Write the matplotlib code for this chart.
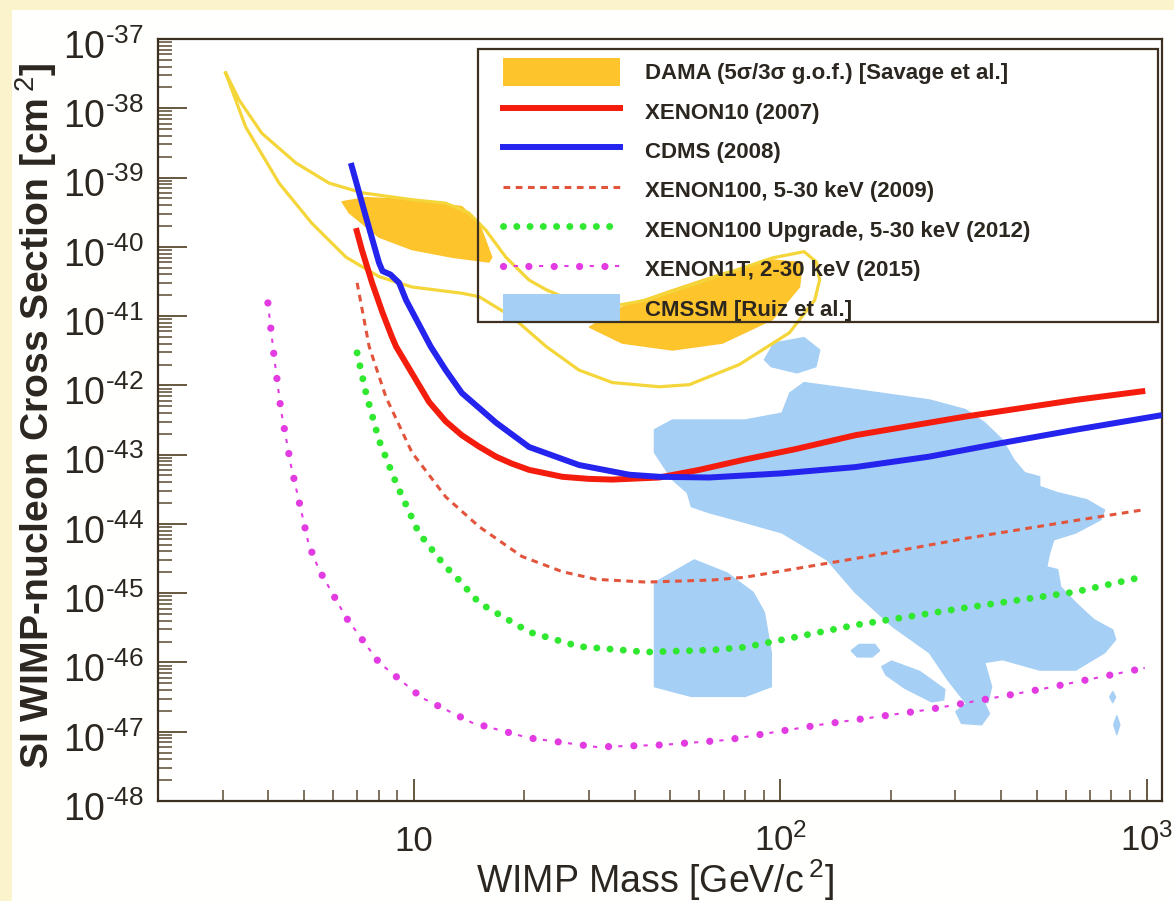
import numpy as np
import matplotlib
matplotlib.use("Agg")
import matplotlib.pyplot as plt
from matplotlib.patches import Rectangle, Patch
from matplotlib.lines import Line2D
from matplotlib.ticker import LogLocator, NullFormatter, FixedLocator
from matplotlib.transforms import ScaledTranslation

plt.rcParams['font.family'] = ['Liberation Sans', 'DejaVu Sans']
plt.rcParams['mathtext.fontset'] = 'custom'
plt.rcParams['mathtext.rm'] = 'Liberation Sans'
plt.rcParams['mathtext.it'] = 'Liberation Sans:italic'
plt.rcParams['mathtext.bf'] = 'Liberation Sans:bold'

# ---- limit curves: WIMP mass [GeV/c^2] vs log10(sigma_SI / cm^2) ----
xenon10_mass = [6.94, 7.2, 7.68, 8.2, 8.7, 8.93, 10.99, 12.2, 13.5, 15.0, 16.75,
                18.5, 20.6, 25.4, 30, 34.8, 46.7, 60, 80, 110, 160, 320, 640, 990]
xenon10_logsig = [-39.73, -40.04, -40.52, -40.95, -41.30, -41.44, -42.24, -42.52,
                  -42.72, -42.88, -43.03, -43.13, -43.22, -43.32, -43.35, -43.36,
                  -43.33, -43.22, -43.07, -42.92, -42.72, -42.45, -42.21, -42.08]

cdms_mass = [6.72, 7.39, 8.02, 8.2, 8.62, 9.1, 9.51, 11.1, 12.2, 13.5, 16.75, 20.6,
             28.2, 38.7, 46.7, 64, 101, 160, 254, 404, 640, 1099]
cdms_logsig = [-38.79, -39.57, -40.23, -40.35, -40.40, -40.52, -40.77, -41.44,
               -41.78, -42.11, -42.54, -42.89, -43.15, -43.29, -43.32, -43.33,
               -43.27, -43.18, -43.03, -42.83, -42.64, -42.43]

xenon100_mass = [6.99, 7.54, 8.38, 9.87, 12.2, 15.05, 19.7, 25.4, 31.4, 43, 65, 80,
                 160, 320, 640, 969]
xenon100_logsig = [-40.52, -41.44, -42.17, -42.97, -43.61, -44.04, -44.47, -44.69,
                   -44.80, -44.84, -44.81, -44.77, -44.50, -44.21, -43.95, -43.80]

upgrade_mass = [6.99, 7.39, 8.02, 8.93, 10.3, 12.2, 13.0, 15.05, 20.6, 28.2, 43,
                65.2, 80, 160, 320, 640, 945]
upgrade_logsig = [-41.53, -42.11, -42.79, -43.41, -44.13, -44.62, -44.76, -45.14,
                  -45.56, -45.77, -45.85, -45.82, -45.78, -45.46, -45.21, -44.98,
                  -44.78]

xenon1t_mass = [3.99, 4.15, 4.33, 4.61, 5.16, 5.50, 6.52, 8.02, 10.5, 14.4, 20.6,
                31.4, 47.6, 71.1, 128, 254, 510, 987]
xenon1t_logsig = [-40.81, -41.59, -42.35, -43.15, -44.30, -44.66, -45.35, -46.00,
                  -46.51, -46.87, -47.09, -47.22, -47.19, -47.12, -46.90, -46.68,
                  -46.39, -46.08]

# ---- DAMA allowed regions ----
dama_outline_mass = [3.06, 3.33, 3.84, 4.76, 5.86, 7.21, 9.87, 12.2, 14.1, 15.7, 17.8,
                     20.6, 22.95, 28.8, 36.3, 43.0, 62.8, 95.1, 116, 125.4, 127.9,
                     124, 105.8, 77.2, 56.4, 46.7, 34.8, 28.2, 22.95, 18.5, 15.05,
                     13.5, 9.87, 8.02, 6.52, 5.26, 4.28, 3.47, 3.06]
dama_outline_logsig = [-37.49, -37.88, -38.36, -38.79, -39.08, -39.22, -39.32, -39.37,
                       -39.51, -39.76, -40.15, -40.48, -40.62, -40.84, -40.84, -40.77,
                       -40.48, -40.16, -40.07, -40.22, -40.48, -40.77, -41.24, -41.70,
                       -41.99, -42.02, -41.96, -41.78, -41.44, -41.01, -40.72, -40.67,
                       -40.58, -40.43, -40.15, -39.66, -39.08, -38.27, -37.49]

dama_low_mass = [6.36, 7.39, 9.87, 13.5, 15.05, 16.3, 16.0, 12.7, 9.87, 8.02, 6.65]
dama_low_logsig = [-39.35, -39.29, -39.32, -39.42, -39.66, -40.15, -40.22, -40.15,
                   -40.04, -39.86, -39.51]

dama_high_mass = [30.1, 37.0, 50.7, 69.4, 95.1, 112.7, 114.8, 95.1, 69.4, 50.7, 37.0]
dama_high_logsig = [-41.16, -41.39, -41.49, -41.39, -41.05, -40.58, -40.23, -40.19,
                    -40.38, -40.62, -40.87]

# ---- CMSSM favoured regions ----
cmssm_main_mass = [45.3, 50.7, 80.2, 101, 106, 116, 160, 255, 320, 361, 404, 433, 464,
                   510, 510, 571, 685, 767, 748, 640, 557, 543, 533, 571, 582, 640,
                   716, 807, 822, 767, 640, 510, 404, 361, 377, 368, 320, 286, 255,
                   202, 160, 134, 101, 80.2, 64.0, 57.1, 55.7, 50.7, 45.3]
cmssm_main_logsig = [-42.64, -42.50, -42.50, -42.40, -42.11, -41.96, -42.06, -42.21,
                     -42.35, -42.54, -42.79, -43.07, -43.26, -43.32, -43.46, -43.55,
                     -43.65, -43.80, -43.94, -44.13, -44.23, -44.42, -44.62, -44.66,
                     -44.91, -45.14, -45.38, -45.53, -45.67, -45.86, -46.11, -46.11,
                     -45.96, -46.00, -46.35, -46.58, -46.58, -46.25, -45.86, -45.48,
                     -44.99, -44.52, -44.13, -43.98, -43.84, -43.75, -43.55, -43.36,
                     -42.97]

cmssm_low_mass = [45.3, 58.2, 71.6, 84.3, 90.4, 94.4, 94.4, 80.2, 57.1, 45.3]
cmssm_low_logsig = [-44.85, -44.52, -44.71, -44.99, -45.28, -45.86, -46.35, -46.49,
                    -46.49, -46.35]

cmssm_top_mass = [90.4, 96, 116, 128, 125, 111, 94.4]
cmssm_top_logsig = [-41.63, -41.39, -41.31, -41.49, -41.73, -41.82, -41.73]

cmssm_isl1_mass = [156, 164, 181, 186.5, 178, 162]
cmssm_isl1_logsig = [-45.83, -45.74, -45.74, -45.83, -45.92, -45.92]

cmssm_isl2_mass = [189, 201, 240, 281, 279, 259, 218, 194]
cmssm_isl2_logsig = [-46.06, -45.98, -46.13, -46.39, -46.54, -46.57, -46.37, -46.18]

cmssm_isl3_mass = [301, 324, 361, 372, 354, 312]
cmssm_isl3_logsig = [-46.71, -46.58, -46.59, -46.74, -46.90, -46.88]

cmssm_isl4_mass = [807, 822, 807, 792]
cmssm_isl4_logsig = [-46.42, -46.50, -46.58, -46.50]

cmssm_isl5_mass = [828, 844, 828, 812]
cmssm_isl5_logsig = [-46.77, -46.90, -47.04, -46.90]

legend_labels = [
    'DAMA (5σ/3σ g.o.f.) [Savage et al.]',
    'XENON10 (2007)',
    'CDMS (2008)',
    'XENON100, 5-30 keV (2009)',
    'XENON100 Upgrade, 5-30 keV (2012)',
    'XENON1T, 2-30 keV (2015)',
    'CMSSM [Ruiz et al.]',
]

xtick_values = [10, 100, 1000]
xtick_labels = ['10', r'$10^{2}$', r'$10^{3}$']
ytick_exponents = list(range(-48, -36))

# ---- colours ----
C_RED = '#F41C0C'
C_BLUE = '#2424EE'
C_RDASH = '#E2553C'
C_GREEN = '#30E830'
C_MAG = '#E23BE2'
C_DAMA = '#FDC42B'
C_DAMA_LINE = '#F4D63A'
C_CMSSM = '#A5CFF4'
C_AXIS = '#3d3020'
C_TEXT = '#2b2620'

W, H = 1174, 901
fig = plt.figure(figsize=(W / 100, H / 100), dpi=100, facecolor='#FFFFFD')
# pale yellow border strips
fig.patches.append(Rectangle((0, 0), 12 / W, 1, transform=fig.transFigure,
                             facecolor='#FAF3CC', edgecolor='none', zorder=-10))
fig.patches.append(Rectangle((0, 1 - 10 / H), 1, 10 / H, transform=fig.transFigure,
                             facecolor='#FAF3CC', edgecolor='none', zorder=-10))

ax = fig.add_axes([158 / W, 100 / H, 1004 / W, 762 / H])
ax.set_xscale('log')
ax.set_yscale('log')
ax.set_xlim(2, 1100)
ax.set_ylim(1e-48, 1e-37)


def sig(v):
    return 10.0 ** np.asarray(v)


# CMSSM regions
for m, s in [(cmssm_main_mass, cmssm_main_logsig), (cmssm_low_mass, cmssm_low_logsig),
             (cmssm_top_mass, cmssm_top_logsig), (cmssm_isl1_mass, cmssm_isl1_logsig),
             (cmssm_isl2_mass, cmssm_isl2_logsig), (cmssm_isl3_mass, cmssm_isl3_logsig),
             (cmssm_isl4_mass, cmssm_isl4_logsig), (cmssm_isl5_mass, cmssm_isl5_logsig)]:
    ax.fill(m, sig(s), facecolor=C_CMSSM, edgecolor=C_CMSSM, lw=1.0, zorder=1,
            joinstyle='round')

# DAMA regions
for m, s in [(dama_low_mass, dama_low_logsig), (dama_high_mass, dama_high_logsig)]:
    ax.fill(m, sig(s), facecolor=C_DAMA, edgecolor=C_DAMA, lw=1.0, zorder=2,
            joinstyle='round')
ax.plot(dama_outline_mass, sig(dama_outline_logsig), color=C_DAMA_LINE, lw=2.3,
        zorder=3, solid_joinstyle='round')

# limit curves
ax.plot(xenon10_mass, sig(xenon10_logsig), color=C_RED, lw=4.3, zorder=5,
        solid_joinstyle='round', solid_capstyle='butt')
ax.plot(cdms_mass, sig(cdms_logsig), color=C_BLUE, lw=4.3, zorder=6,
        solid_joinstyle='round', solid_capstyle='butt')
ax.plot(xenon100_mass, sig(xenon100_logsig), color=C_RDASH, lw=2.2,
        linestyle=(0, (2.2, 1.8)), zorder=5)
ax.plot(upgrade_mass, sig(upgrade_logsig), color=C_GREEN, lw=5.0,
        linestyle=(0, (0.01, 1.9)), dash_capstyle='round', zorder=5)
ax.plot(xenon1t_mass, sig(xenon1t_logsig), color=C_MAG, lw=5.2,
        linestyle=(0, (0.01, 3.5)), dash_capstyle='round', zorder=5)
ax.plot(xenon1t_mass, sig(xenon1t_logsig), color=C_MAG, lw=1.5,
        linestyle=(7, (2, 10.15)), zorder=5)

# axes styling
for sp in ax.spines.values():
    sp.set_color(C_AXIS)
    sp.set_linewidth(1.6)

ax.xaxis.set_major_locator(FixedLocator(xtick_values))
ax.set_xticklabels(xtick_labels)
ax.xaxis.set_minor_locator(LogLocator(base=10, subs=np.arange(2, 10), numticks=100))
ax.xaxis.set_minor_formatter(NullFormatter())
ax.yaxis.set_major_locator(FixedLocator([10.0 ** e for e in ytick_exponents]))
ax.set_yticklabels([r'$10^{\text{-}%d}$' % (-e) for e in ytick_exponents])
ax.yaxis.set_minor_locator(LogLocator(base=10, subs=np.arange(2, 10), numticks=200))
ax.yaxis.set_minor_formatter(NullFormatter())

ax.tick_params(which='both', direction='in', top=False, right=False,
               colors='#5a4a30', labelcolor=C_TEXT)
ax.tick_params(axis='y', which='major', length=21, width=1.3, labelsize=27, pad=10)
ax.tick_params(axis='y', which='minor', length=10, width=1.1)
ax.tick_params(axis='x', which='major', length=16, width=1.3, labelsize=25, pad=36)
ax.tick_params(axis='x', which='minor', length=8, width=1.1)
for lab in ax.get_xticklabels():
    lab.set_verticalalignment('baseline')
# exponent labels sit slightly below their tick marks
shift_down = ScaledTranslation(0, -9 / 100, fig.dpi_scale_trans)
for lab in ax.get_yticklabels():
    lab.set_verticalalignment('center')
    lab.set_transform(lab.get_transform() + shift_down)

ax.set_xlabel(r'WIMP Mass [GeV/c$\,^{2}$]', fontsize=27, color=C_TEXT)
ax.xaxis.label.set_verticalalignment('baseline')
ax.xaxis.set_label_coords(0.495, (801 - 893) / 762)
ax.set_ylabel(r'SI WIMP-nucleon Cross Section [cm$\,^{2}$]', fontsize=28.2,
              fontweight='bold', color=C_TEXT)
ax.yaxis.label.set_verticalalignment('center')
ax.yaxis.set_label_coords((36 - 158) / 1004, (801 - 416) / 762)

# legend
mag_dots = Line2D([], [], color=C_MAG, lw=5.2, linestyle=(0, (0.01, 3.5)),
                  dash_capstyle='round')
mag_dash = Line2D([], [], color=C_MAG, lw=1.5, linestyle=(7, (2, 10.15)))
handles = [
    Patch(facecolor=C_DAMA, edgecolor='none'),
    Line2D([], [], color=C_RED, lw=4.3),
    Line2D([], [], color=C_BLUE, lw=4.3),
    Line2D([], [], color=C_RDASH, lw=2.2, linestyle=(0, (2.2, 1.8))),
    Line2D([], [], color=C_GREEN, lw=5.0, linestyle=(0, (0.01, 1.9)),
           dash_capstyle='round'),
    (mag_dots, mag_dash),
    Patch(facecolor=C_CMSSM, edgecolor='none'),
]
leg = ax.legend(handles, legend_labels, loc='upper left',
                bbox_to_anchor=((503 - 158) / 1004, (801 - 58) / 762),
                frameon=False, prop={'size': 16, 'weight': 'bold'},
                handlelength=5.27, handleheight=1.565, handletextpad=1.12,
                labelspacing=0.51, borderpad=0, borderaxespad=0)
for t in leg.get_texts():
    t.set_color(C_TEXT)
leg.set_zorder(8)
ax.add_patch(Rectangle(((478 - 158) / 1004, (801 - 322) / 762),
                       (1158 - 478) / 1004, (322 - 49) / 762,
                       transform=ax.transAxes, facecolor='none', edgecolor=C_AXIS,
                       lw=1.6, zorder=9))

fig.savefig('out.png', dpi=100, facecolor=fig.get_facecolor())
